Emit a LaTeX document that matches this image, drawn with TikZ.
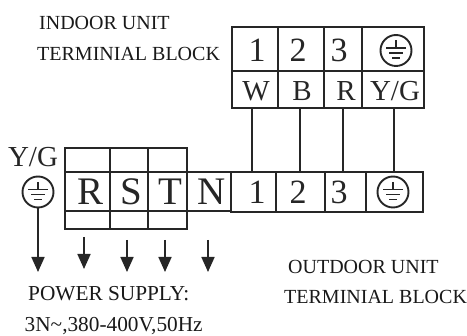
\documentclass[tikz,border=0pt]{standalone}
\usepackage{fontspec}
\setmainfont{Liberation Serif}
\usetikzlibrary{arrows.meta}
\tikzset{
  x=1pt,y=-1pt,
  frame/.style={draw=black!85,line width=1.9pt},
  wire/.style={draw=black!85,line width=1.7pt},
  digit/.style={font=\fontsize{34}{34}\selectfont,text=black!85,inner sep=0pt},
  phase/.style={font=\fontsize{39}{39}\selectfont,text=black!85,inner sep=0pt},
  mid/.style={font=\fontsize{29}{29}\selectfont,text=black!85,inner sep=0pt},
  label/.style={font=\fontsize{20}{20}\selectfont,text=black!90,inner sep=0pt},
  supply/.style={font=\fontsize{21.3}{21}\selectfont,text=black!90,inner sep=0pt},
  earth/.style={circle,draw=black!85,line width=1.9pt,minimum size=31pt,inner sep=0pt,
    path picture={
      \draw[line width=1.4pt,black!85] (path picture bounding box.center) ++(0,-10) -- ++(0,7.7);
      \draw[line width=1.4pt,black!85] (path picture bounding box.center) ++(-10,-2.3) -- ++(20,0);
      \draw[line width=1.4pt,black!85] (path picture bounding box.center) ++(-7,2.7) -- ++(14,0);
      \draw[line width=1.4pt,black!85] (path picture bounding box.center) ++(-4,7.7) -- ++(8,0);
    }},
  arrowline/.style={draw=black!85,line width=1.7pt,-{Triangle[width=13pt,length=15pt]}},
}
\begin{document}
\begin{tikzpicture}
\useasboundingbox (0,0) rectangle (467,336);
% indoor block
\node[label,anchor=west] (t1) at (39,23) {INDOOR UNIT};
\node[label,anchor=west] (t2) at (37,54) {TERMINIAL BLOCK};
\draw[frame] (232,27) rectangle (424,108);
\draw[frame] (232,71) -- (424,71);
\draw[frame] (278,27) -- (278,108);
\draw[frame] (324,27) -- (324,108);
\draw[frame] (362,27) -- (362,108);
\node[digit] (i1) at (257,50) {1};
\node[digit] (i2) at (298,50) {2};
\node[digit] (i3) at (339,50) {3};
\node[earth] (ie) at (396,50.5) {};
\node[mid] (iw) at (256,91) {W};
\node[mid] (ib) at (302,91) {B};
\node[mid] (ir) at (346,91) {R};
\node[mid] (iy) at (395,91) {Y/G};
% outdoor block
\draw[frame] (231,172) rectangle (423,212);
\draw[frame] (276,172) -- (276,212);
\draw[frame] (325,172) -- (325,212);
\draw[frame] (366,172) -- (366,212);
\node[digit] (o1) at (257,192) {1};
\node[digit] (o2) at (298,192) {2};
\node[digit] (o3) at (339,192) {3};
\node[earth] (oe) at (393,192) {};
% wires
\coordinate (a1) at (252,108); \coordinate (b1) at (252,172);
\coordinate (a2) at (300,108); \coordinate (b2) at (300,172);
\coordinate (a3) at (343,108); \coordinate (b3) at (343,172);
\coordinate (a4) at (394,108); \coordinate (b4) at (394,172);
\draw[wire] (a1) -- (b1);
\draw[wire] (a2) -- (b2);
\draw[wire] (a3) -- (b3);
\draw[wire] (a4) -- (b4);
% supply block
\draw[frame] (65,148) rectangle (187,229);
\draw[frame] (65,172) -- (231,172);
\draw[frame] (65,211) -- (231,211);
\draw[frame] (110,148) -- (110,229);
\draw[frame] (148,148) -- (148,229);
\node[phase] (r) at (90.5,192) {R};
\node[phase] (s) at (131,192) {S};
\node[phase] (t) at (170,192) {T};
\node[phase] (n) at (212,192) {N};
\node[mid] (yg) at (33,157) {Y/G};
\node[earth] (le) at (38,192) {};
\coordinate (p0) at (38,272);
\draw[arrowline] (le) -- (p0);
\coordinate (q1) at (84,237); \coordinate (r1) at (84,269);
\coordinate (q2) at (127,240); \coordinate (r2) at (127,272);
\coordinate (q3) at (165,240); \coordinate (r3) at (165,272);
\coordinate (q4) at (208,240); \coordinate (r4) at (208,272);
\draw[arrowline] (q1) -- (r1);
\draw[arrowline] (q2) -- (r2);
\draw[arrowline] (q3) -- (r3);
\draw[arrowline] (q4) -- (r4);
\node[supply,anchor=west] (ps) at (28,294) {POWER SUPPLY:};
\node[supply,anchor=west] (pv) at (24.5,326) {3N\textasciitilde,380-400V,50Hz};
\node[label,anchor=west] (ou) at (288,267) {OUTDOOR UNIT};
\node[label,anchor=west] (ot) at (284,297) {TERMINIAL BLOCK};
\end{tikzpicture}
\end{document}
